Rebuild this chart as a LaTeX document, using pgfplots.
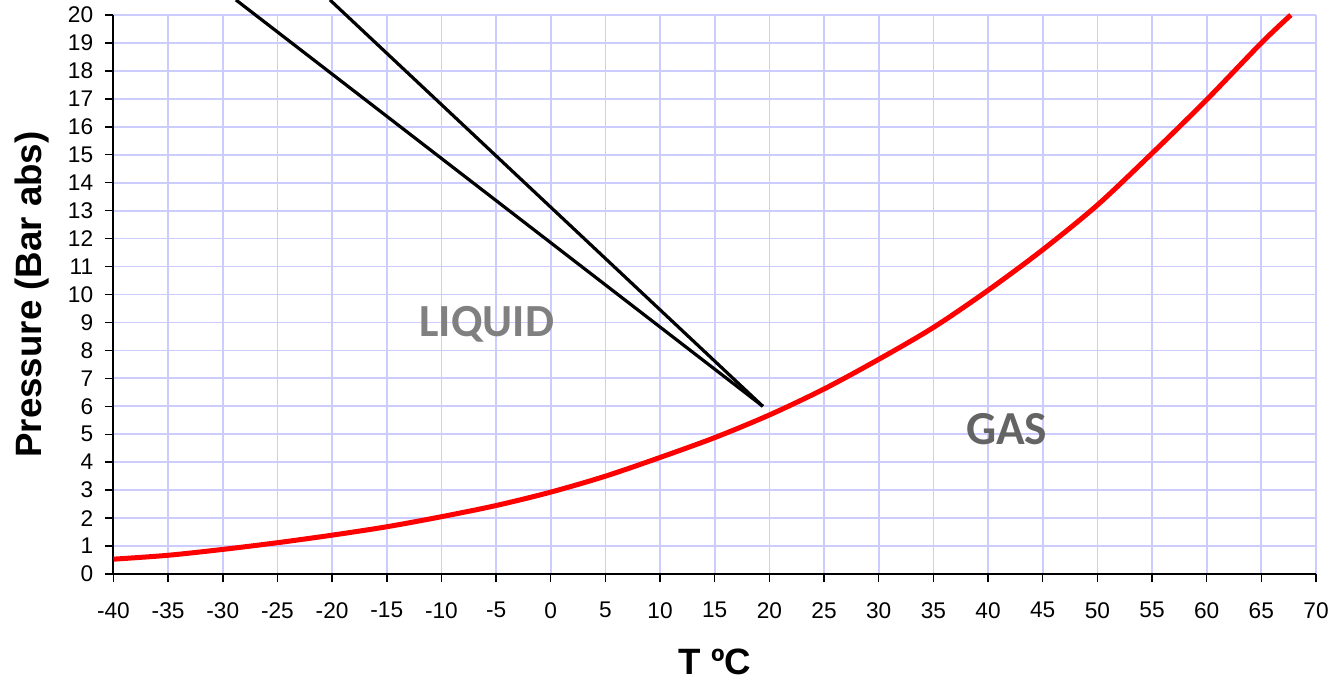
\documentclass[border=0pt]{standalone}
\usepackage{fontspec}
\setmainfont{Liberation Sans}
\newfontfamily\carlito{Carlito}
\usepackage{pgfplots}
\pgfplotsset{compat=1.18}
\definecolor{gridc}{RGB}{204,204,255}
\definecolor{liq}{RGB}{128,128,128}
\definecolor{gas}{RGB}{100,100,100}
\begin{document}
\begin{tikzpicture}
\begin{axis}[
  scale only axis, width=901.9pt, height=419.25pt,
  xmin=-40, xmax=70, ymin=0, ymax=20,
  xtick={-40,-35,...,70}, ytick={0,1,...,20},
  xticklabels={-40,-35,-30,-25,-20,-15,-10,-5,0,5,10,15,20,25,30,35,40,45,50,55,60,65,70},
  /pgf/number format/assume math mode=true,
  axis x line*=bottom, axis y line*=left,
  axis line style={line width=1.5pt, -},
  tick align=outside, major tick length=6pt,
  tick style={line width=1.1pt, black},
  grid=major, grid style={gridc, line width=1.3pt},
  clip=false,
  ticklabel style={font=\fontsize{17}{20}\selectfont, inner sep=0pt},
  xticklabel style={anchor=north, yshift=-15pt},
  yticklabel style={anchor=east, xshift=-9pt},
  xlabel={T ºC}, ylabel={Pressure (Bar abs)},
  label style={font=\bfseries\fontsize{27.5}{33}\selectfont, inner sep=0pt},
  xlabel style={at={(rel axis cs:0.5,0)}, anchor=base, yshift=-75pt},
  ylabel style={at={([xshift=-54pt]rel axis cs:0,0.5)}, anchor=base},
]
\addplot[red, line width=3.75pt, smooth, tension=0.5] coordinates {
(-40,0.53) (-35,0.67) (-30,0.88) (-25,1.12) (-20,1.39) (-15,1.69) (-10,2.05)
(-5,2.45) (0,2.93) (5,3.50) (10,4.17) (15,4.88) (20,5.69) (25,6.62) (30,7.68)
(35,8.82) (40,10.15) (45,11.6) (50,13.2) (55,15.05) (60,16.97) (65,19.0) (67.7,20.0)
};
\addplot[black, line width=2.4pt] coordinates {(19.4,6.0) (-28.8,20.54)};
\addplot[black, line width=2.4pt] coordinates {(19.4,6.0) (-20.2,20.54)};
\node[anchor=base west, inner sep=0pt, font=\carlito\bfseries\fontsize{34.5}{40}\selectfont, text=liq] at (axis cs:-12.03,8.49) {LIQUID};
\node[anchor=base west, inner sep=0pt, font=\carlito\bfseries\fontsize{35.5}{40}\selectfont, text=gas] at (axis cs:37.97,4.65) {GAS};
\end{axis}
\pgfresetboundingbox
\path[use as bounding box] ([xshift=-85.1pt, yshift=-79.5pt]current axis.south west) rectangle ([xshift=12pt, yshift=11.25pt]current axis.north east);
\end{tikzpicture}
\end{document}
